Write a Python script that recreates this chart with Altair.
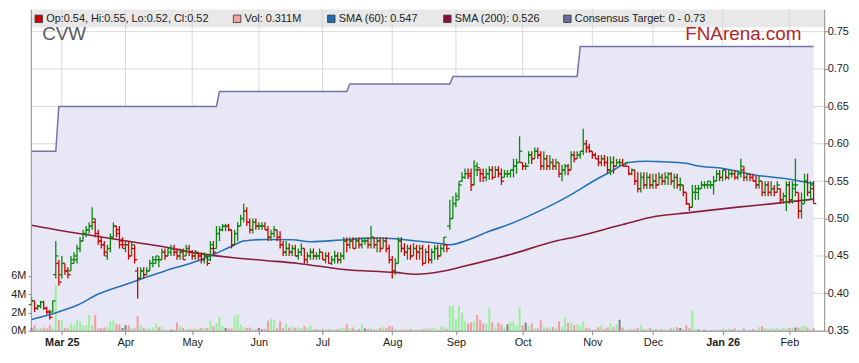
import altair as alt
import pandas as pd

START_DATE = "2025-02-17"

opens = [
    .385, .39, .38, .383, .388, .38, .375, .375, .425, .44,
    .425, .44, .43, .43, .44, .445, .46, .47, .48, .485,
    .49, .495, .48, .47, .465, .45, .46, .475, .49, .485,
    .47, .46, .465, .45, .46, .43, .42, .43, .425, .43,
    .44, .44, .445, .445, .455, .45, .455, .46, .455, .45,
    .455, .45, .46, .455, .45, .455, .45, .445, .45, .445,
    .46, .46, .48, .485, .49, .49, .485, .465, .48, .49,
    .50, .51, .495, .485, .495, .49, .49, .49, .485, .475,
    .48, .485, .475, .465, .455, .46, .455, .46, .45, .455,
    .46, .445, .45, .455, .45, .45, .455, .445, .45, .44,
    .445, .45, .445, .45, .47, .465, .47, .46, .47, .465,
    .47, .47, .465, .475, .465, .47, .46, .47, .46, .445,
    .43, .44, .47, .46, .455, .46, .45, .46, .455, .46,
    .44, .455, .445, .455, .46, .45, .46, .465, .49, .50,
    .52, .53, .55, .555, .56, .56, .545, .565, .565, .56,
    .555, .56, .565, .555, .565, .56, .555, .56, .56, .565,
    .57, .575, .575, .57, .57, .585, .58, .59, .585, .57,
    .58, .57, .575, .57, .575, .56, .565, .57, .565, .585,
    .58, .585, .59, .60, .595, .59, .585, .58, .575, .58,
    .575, .565, .575, .57, .575, .575, .57, .57, .56, .565,
    .55, .54, .555, .545, .555, .545, .55, .545, .555, .55,
    .555, .56, .55, .555, .545, .545, .535, .52, .515, .535,
    .535, .54, .545, .545, .545, .545, .55, .56, .555, .565,
    .555, .56, .56, .555, .56, .565, .555, .56, .555, .55,
    .545, .55, .535, .545, .535, .54, .535, .54, .525, .53,
    .545, .525, .54, .535, .51, .52, .55, .535, .54,
]
highs = [
    .395, .39, .385, .39, .39, .382, .378, .39, .47, .445,
    .45, .44, .435, .45, .455, .465, .475, .485, .49, .495,
    .515, .50, .485, .475, .47, .465, .48, .495, .49, .49,
    .475, .47, .47, .47, .465, .435, .435, .435, .435, .445,
    .45, .45, .45, .46, .46, .46, .465, .465, .46, .46,
    .46, .465, .465, .458, .458, .455, .455, .455, .45, .47,
    .47, .49, .49, .493, .493, .493, .485, .485, .495, .505,
    .52, .515, .50, .50, .50, .495, .495, .495, .49, .485,
    .49, .485, .483, .47, .47, .467, .465, .465, .46, .467,
    .46, .455, .46, .46, .455, .46, .455, .455, .455, .45,
    .457, .455, .455, .475, .475, .475, .475, .475, .475, .475,
    .475, .475, .49, .475, .475, .475, .475, .475, .465, .45,
    .447, .475, .475, .467, .465, .465, .467, .465, .465, .465,
    .46, .465, .46, .465, .465, .465, .475, .465, .525, .53,
    .535, .55, .562, .567, .567, .567, .578, .575, .567, .567,
    .567, .57, .57, .57, .57, .567, .565, .565, .565, .58,
    .58, .61, .575, .575, .59, .59, .595, .595, .59, .59,
    .585, .585, .58, .58, .575, .572, .573, .573, .59, .59,
    .59, .59, .62, .605, .60, .59, .588, .585, .585, .585,
    .583, .583, .583, .58, .58, .58, .575, .57, .567, .565,
    .562, .562, .562, .562, .56, .56, .56, .562, .56, .562,
    .562, .562, .56, .56, .555, .545, .535, .52, .545, .545,
    .545, .55, .55, .55, .55, .557, .565, .565, .565, .565,
    .565, .565, .565, .565, .58, .57, .56, .56, .56, .557,
    .557, .55, .55, .55, .55, .545, .55, .54, .535, .55,
    .55, .55, .58, .535, .535, .56, .56, .55, .55,
]
lows = [
    .383, .375, .378, .38, .378, .372, .365, .375, .42, .41,
    .42, .425, .42, .43, .44, .44, .455, .47, .475, .48,
    .485, .475, .465, .46, .45, .445, .455, .475, .475, .46,
    .46, .455, .445, .45, .44, .393, .42, .42, .425, .43,
    .435, .44, .435, .445, .445, .45, .45, .45, .445, .445,
    .445, .45, .45, .445, .445, .445, .44, .44, .437, .443,
    .45, .46, .47, .483, .483, .483, .46, .465, .47, .49,
    .495, .49, .48, .48, .485, .485, .485, .485, .47, .47,
    .475, .47, .46, .45, .45, .45, .45, .45, .445, .45,
    .44, .44, .445, .445, .445, .445, .445, .44, .44, .438,
    .44, .44, .44, .445, .455, .46, .46, .46, .46, .46,
    .465, .46, .46, .46, .455, .455, .46, .455, .44, .42,
    .425, .44, .455, .45, .445, .445, .45, .445, .445, .437,
    .44, .44, .44, .445, .445, .45, .455, .455, .485, .50,
    .515, .525, .549, .553, .553, .537, .545, .557, .549, .549,
    .55, .552, .552, .555, .555, .545, .555, .555, .555, .555,
    .56, .575, .565, .565, .573, .573, .58, .58, .565, .565,
    .565, .565, .565, .565, .555, .55, .558, .558, .565, .575,
    .58, .58, .585, .588, .588, .58, .58, .57, .57, .57,
    .56, .558, .56, .57, .57, .57, .57, .558, .558, .545,
    .535, .535, .54, .54, .54, .54, .54, .545, .545, .545,
    .545, .545, .54, .54, .537, .53, .518, .51, .515, .525,
    .525, .54, .54, .54, .54, .532, .55, .55, .55, .552,
    .552, .555, .552, .552, .555, .55, .55, .55, .55, .54,
    .54, .53, .53, .53, .53, .53, .535, .52, .52, .51,
    .52, .52, .53, .50, .50, .52, .53, .525, .52,
]
closes = [
    .39, .38, .383, .388, .38, .375, .368, .39, .45, .415,
    .44, .43, .425, .445, .45, .46, .47, .48, .485, .49,
    .50, .48, .47, .465, .455, .46, .475, .49, .48, .465,
    .465, .465, .45, .465, .445, .42, .43, .425, .43, .44,
    .445, .45, .445, .455, .45, .46, .46, .455, .45, .455,
    .445, .46, .455, .45, .455, .45, .445, .45, .44, .465,
    .455, .48, .485, .49, .49, .485, .465, .48, .49, .50,
    .51, .495, .485, .495, .49, .49, .49, .485, .475, .48,
    .485, .475, .465, .455, .46, .455, .46, .45, .455, .46,
    .445, .45, .455, .45, .45, .455, .445, .45, .44, .445,
    .45, .445, .45, .47, .465, .47, .46, .47, .465, .47,
    .47, .465, .475, .465, .47, .46, .47, .46, .445, .43,
    .44, .47, .46, .455, .46, .45, .46, .455, .46, .44,
    .455, .445, .455, .46, .45, .46, .475, .46, .50, .52,
    .525, .545, .555, .56, .557, .545, .57, .568, .56, .555,
    .56, .565, .555, .565, .56, .55, .56, .56, .565, .57,
    .575, .59, .57, .57, .585, .58, .59, .585, .57, .58,
    .57, .575, .57, .575, .56, .565, .57, .565, .585, .58,
    .585, .59, .60, .595, .59, .585, .58, .575, .58, .575,
    .565, .575, .57, .575, .575, .57, .575, .56, .565, .55,
    .54, .555, .545, .555, .545, .55, .545, .555, .55, .555,
    .56, .55, .555, .545, .545, .535, .52, .515, .535, .54,
    .54, .545, .545, .55, .545, .55, .56, .555, .565, .555,
    .56, .56, .555, .56, .57, .555, .56, .555, .55, .545,
    .55, .535, .545, .535, .54, .535, .545, .525, .53, .545,
    .525, .545, .545, .51, .52, .55, .535, .545, .52,
]
volumes = [  # millions
    .3, .6, .25, .3, .35, .25, .6, .35, 5.0, 1.15,
    1.15, .3, .25, .8, .6, 1.2, 1.0, .6, .6, 1.7,
    .6, 1.7, .25, .3, .35, .4, 1.0, 1.15, .7, .7,
    .3, .6, .6, .3, .25, 1.6, .6, .3, .2, .25,
    .35, .8, .4, .45, .1, .1, .1, .1, .9, .5,
    .3, .2, .2, .15, .3, .15, .3, .3, .3, 1.05,
    .5, .8, 1.5, .5, .3, .25, .25, 1.6, 1.8, .7,
    .4, .3, .35, .2, .15, .3, .15, .2, 1.1, 1.3,
    1.15, .25, 1.05, .3, .75, .35, .45, .3, .35, .3,
    .5, .35, .6, .15, .12, .1, .2, .15, .15, .2,
    .15, .2, .35, .3, .7, .3, .35, .15, .2, .7,
    .25, .2, .3, .15, .2, .3, .4, .3, .5, .45,
    .15, .1, .1, .1, .15, .2, .15, .1, .15, .15,
    .3, .2, .3, .3, .1, .45, .45, .2, 2.7, 2.75,
    1.3, 2.7, 2.0, 1.0, .8, .9, 1.05, 1.7, 1.2, .8,
    .75, 2.45, .9, .4, .9, .7, .4, .7, 1.0, 1.0,
    .6, 2.55, .6, .9, .5, .75, .25, .25, 1.15, .4,
    .25, .4, .4, .25, 1.0, .4, 1.45, .85, .85, .6,
    .7, .55, 1.0, .35, .25, .1, .1, .4, .6, .2,
    .35, .8, .4, .7, 1.2, .35, .1, .15, .2, .15,
    .3, .6, .15, .2, .35, .2, .2, .15, .15, .15,
    .15, .25, .35, .4, .3, .15, .6, .3, 2.2, .15,
    .15, .08, .1, .05, .08, .1, .05, .1, .25, .1,
    .25, .1, .25, .05, .1, .25, .05, .05, .2, .05,
    .4, .5, .3, .15, .35, .15, .3, .15, .35, .25,
    .3, .3, .35, .35, .45, .6, .35, .1, .311,
]

sma60_idx = [0, 8, 15, 22, 31, 36, 44, 53, 59, 66, 70, 77, 86, 92, 103, 114, 120,
             127, 134, 138, 143, 151, 158, 169, 173, 178, 186, 191, 197, 203, 208,
             216, 219, 228, 239, 250, 255, 258]
sma60_val = [.365, .374, .384, .399, .412, .419, .43, .441, .45, .463, .47, .472,
             .4716, .469, .4716, .474, .473, .47, .467, .465, .47, .483, .493, .513,
             .521, .532, .5516, .5625, .575, .5767, .576, .574, .571, .567, .558,
             .5525, .549, .547]
sma200_idx = [0, 11, 22, 33, 44, 55, 66, 77, 88, 103, 120, 127, 136, 143, 158, 173,
              180, 195, 206, 217, 233, 244, 258]
sma200_val = [.491, .483, .476, .469, .462, .4535, .448, .444, .44, .432, .428, .4256,
              .43, .4366, .452, .47, .476, .492, .503, .508, .5153, .5197, .526]

target_start = [0, 9, 62, 105, 139, 181]
target_value = [0.59, 0.65, 0.67, 0.68, 0.69, 0.73]

month_labels = ["Mar 25", "Apr", "May", "Jun", "Jul", "Aug", "Sep", "Oct", "Nov",
                "Dec", "Jan 26", "Feb"]
price_ticks = [0.35, 0.40, 0.45, 0.50, 0.55, 0.60, 0.65, 0.70, 0.75]
vol_ticks = [0, 2, 4, 6]

# ---------------------------------------------------------------- tables
n = len(closes)
dates = pd.bdate_range(START_DATE, periods=n)
tick_idx = [k for k in range(1, n) if dates[k].month != dates[k - 1].month]

target = []
for k in range(n):
    v = target_value[0]
    for s, val in zip(target_start, target_value):
        if k >= s:
            v = val
    target.append(v)

vdir = ["flat"]
for k in range(1, n):
    vdir.append("up" if closes[k] > closes[k - 1] else ("down" if closes[k] < closes[k - 1] else "flat"))

df = pd.DataFrame({
    "i": list(range(n)), "open": opens, "high": highs, "low": lows, "close": closes,
    "vol": volumes, "target": target, "vdir": vdir,
})
df["io"] = df["i"] - 0.9
df["ic"] = df["i"] + 0.9
df["base"] = price_ticks[0]

sma60_df = pd.DataFrame({"i": sma60_idx, "v": sma60_val})
sma200_df = pd.DataFrame({"i": sma200_idx, "v": sma200_val})
hgrid_df = pd.DataFrame({"p": price_ticks})
vgrid_df = pd.DataFrame({"i": tick_idx})
one = pd.DataFrame({"k": [0]})

# ---------------------------------------------------------------- scales / axes
FONT = "Liberation Sans"
W, H = 800, 324
xs = alt.Scale(domain=[-0.24, 261.5], nice=False, zero=False, padding=0)
ps = alt.Scale(domain=[0.35, 0.7797], nice=False, zero=False, padding=0)
vs = alt.Scale(domain=[0, 35.03], nice=False, zero=False, padding=0)

lab_expr = "".join(f"datum.value=={k}?'{lab}':" for k, lab in zip(tick_idx, month_labels)) + "''"
bold_test = " || ".join(f"datum.value=={k}" for k, lab in zip(tick_idx, month_labels) if " " in lab)

xax = alt.Axis(values=tick_idx, labelExpr=lab_expr, grid=False, title=None,
               tickSize=4, tickColor="#888888", domainColor="#888888",
               labelFont=FONT, labelFontSize=11, labelColor="#222222", labelPadding=2,
               labelFlush=False, labelOverlap=False, zindex=1,
               labelFontWeight={"condition": {"test": bold_test, "value": "bold"},
                                "value": "normal"})
X = alt.X("i:Q", scale=xs, axis=xax)

yax_right = alt.Axis(orient="right", values=price_ticks, format=".2f", grid=False,
                     title=None, tickSize=3, tickColor="#888888", domainColor="#888888",
                     labelFont=FONT, labelFontSize=11, labelColor="#222222",
                     labelPadding=0, labelFlush=False, zindex=1)
yax_left = alt.Axis(orient="left", values=vol_ticks, labelExpr="datum.value + 'M'",
                    grid=False, title=None, tickSize=3, tickColor="#888888",
                    domainColor="#888888", labelFont=FONT, labelFontSize=11,
                    labelColor="#222222", labelPadding=2, labelFlush=False, zindex=1)

dir_color = alt.condition("datum.close >= datum.open", alt.value("#0a870a"),
                          alt.value("#d00000"))
vol_color = alt.Color("vdir:N", scale=alt.Scale(domain=["up", "down", "flat"],
                                                  range=["#9af09a", "#f39a9a", "#808080"]),
                      legend=None)

# ---------------------------------------------------------------- layers
vgrid = alt.Chart(vgrid_df).mark_rule(color="#dadada", strokeWidth=1).encode(x=X)
hgrid = alt.Chart(hgrid_df).mark_rule(color="#dadada", strokeWidth=1).encode(
    y=alt.Y("p:Q", scale=ps, axis=None))

area = alt.Chart(df).mark_area(color="#e7e7f6", opacity=1).encode(
    x=X, y=alt.Y("target:Q", scale=ps, axis=yax_right), y2="base:Q")
tline = alt.Chart(df).mark_line(color="#7474a8", strokeWidth=1.5).encode(
    x=X, y=alt.Y("target:Q", scale=ps, axis=None))

vol = alt.Chart(df).mark_bar(size=2).encode(
    x=X, y=alt.Y("vol:Q", scale=vs, axis=yax_left), color=vol_color)

s200 = alt.Chart(sma200_df).mark_line(color="#8a1c3f", strokeWidth=1.6,
                                      interpolate="monotone").encode(
    x=X, y=alt.Y("v:Q", scale=ps, axis=None))
s60 = alt.Chart(sma60_df).mark_line(color="#2472b5", strokeWidth=1.6,
                                    interpolate="monotone").encode(
    x=X, y=alt.Y("v:Q", scale=ps, axis=None))

hl = alt.Chart(df).mark_rule(strokeWidth=1.3).encode(
    x=X, y=alt.Y("low:Q", scale=ps, axis=None), y2="high:Q", color=dir_color)
otick = alt.Chart(df).mark_rule(strokeWidth=1.3).encode(
    x=alt.X("io:Q", scale=xs, axis=xax), x2="i:Q",
    y=alt.Y("open:Q", scale=ps, axis=None), color=dir_color)
ctick = alt.Chart(df).mark_rule(strokeWidth=1.3).encode(
    x=alt.X("i:Q", scale=xs, axis=xax), x2="ic:Q",
    y=alt.Y("close:Q", scale=ps, axis=None), color=dir_color)

band = alt.Chart(one).mark_rect(color="#d2d2d2", opacity=0.5).encode(
    x=alt.value(0), x2=alt.value(W), y=alt.value(0), y2=alt.value(18))

legend_labels = [
    f"Op:{opens[-1]:.2f}, Hi:{highs[-1]:.2f}, Lo:{lows[-1]:.2f}, Cl:{closes[-1]:.2f}",
    f"Vol: {volumes[-1]:.3f}M",
    f"SMA (60): {sma60_val[-1]:.3f}",
    f"SMA (200): {sma200_val[-1]:.3f}",
    f"Consensus Target: 0 - {target_value[-1]:.2f}",
]
legend_colors = ["#cc0000", "#f4a4a4", "#1f6db0", "#86103a", "#6b6b9e"]
legend_x = [8, 208, 303, 420, 541]

legend_layers = []
for lab, col, lx in zip(legend_labels, legend_colors, legend_x):
    legend_layers.append(
        alt.Chart(one).mark_square(size=56, color=col, opacity=1, stroke="#333333",
                                   strokeWidth=0.8).encode(
            x=alt.value(lx), y=alt.value(9.5)))
    legend_layers.append(
        alt.Chart(one).mark_text(text=lab, align="left", baseline="middle", font=FONT,
                                 fontSize=11, color="#222222").encode(
            x=alt.value(lx + 7.5), y=alt.value(10)))

cvw = alt.Chart(one).mark_text(text="CVW", align="left", baseline="alphabetic",
                               font=FONT, fontSize=19, color="#5a5a5a").encode(
    x=alt.value(11.5), y=alt.value(31))
fna = alt.Chart(one).mark_text(text="FNArena.com", align="right", baseline="alphabetic",
                               font=FONT, fontSize=19, color="#b3262b").encode(
    x=alt.value(777), y=alt.value(31))

chart = alt.layer(
    vgrid, hgrid, area, tline, vol, s200, s60, hl, otick, ctick, band,
    *legend_layers, cvw, fna,
).resolve_scale(y="independent", color="independent").properties(
    width=W, height=H,
    padding={"left": 23, "top": 0, "right": 27, "bottom": 18},
    autosize=alt.AutoSizeParams(type="none"),
    background="white",
).configure_view(strokeWidth=0)

chart.save("out.html", embed_options={"renderer": "svg", "actions": False})
